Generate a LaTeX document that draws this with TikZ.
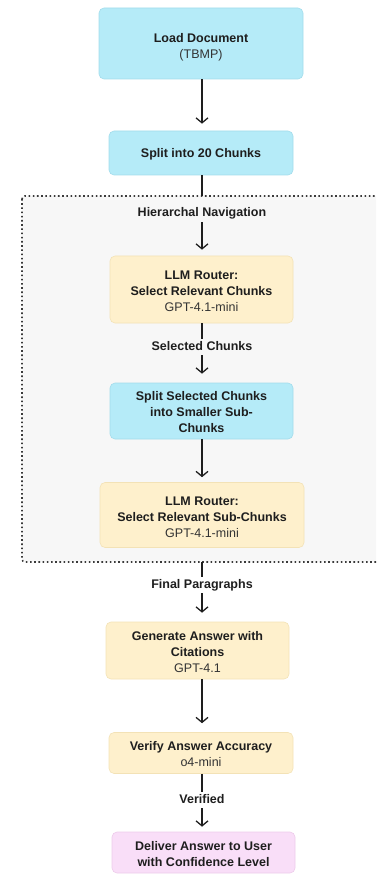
\documentclass[tikz,border=0pt]{standalone}
\usepackage{fontspec}
\setmainfont{Liberation Sans}
\usetikzlibrary{arrows.meta}

\definecolor{cyanfill}{HTML}{B5EBF8}
\definecolor{cyanline}{HTML}{A3DCEB}
\definecolor{sandfill}{HTML}{FEF0CC}
\definecolor{sandline}{HTML}{F3E2B6}
\definecolor{pinkfill}{HTML}{F9DEF8}
\definecolor{pinkline}{HTML}{EDCBEA}
\definecolor{groupfill}{HTML}{F7F7F7}
\definecolor{groupline}{HTML}{3A3A3A}
\definecolor{ink}{HTML}{1E1E1E}
\definecolor{softink}{HTML}{333333}

% stage text: a centred stack of lines, set a little below the box centre
\newcommand\stagetext[2][2.5pt]{%
  \raisebox{-#1}[\height][\depth]{\begin{tabular}{@{}c@{}}#2\end{tabular}}}

\tikzset{
  stage/.style={rectangle, rounded corners=5pt, line width=0.6pt,
    inner sep=0pt, text=ink,
    font=\fontsize{12.5}{16}\selectfont},
  cyanstage/.style={stage, fill=cyanfill, draw=cyanline},
  sandstage/.style={stage, fill=sandfill, draw=sandline},
  pinkstage/.style={stage, fill=pinkfill, draw=pinkline},
  edgelabel/.style={font=\fontsize{12.5}{16}\selectfont\bfseries, text=ink,
    inner xsep=1pt, inner ysep=2pt, text height=9pt, text depth=3pt},
  link/.style={line width=1.3pt, draw=ink},
  flow/.style={link, -{Straight Barb[length=5pt,width=12pt,line width=1.3pt]}, shorten >=7pt}
}

\begin{document}
\begin{tikzpicture}[x=1pt,y=-1pt]
  \useasboundingbox (0,0) rectangle (376,874);
  \clip (0,0) rectangle (376,874);

  % vertical axis used by all connectors
  \coordinate (axis) at (202,0);

  % group frame for the hierarchical navigation stage
  \draw[fill=groupfill, draw=groupline, line width=1.6pt,
        dash pattern=on 1.6pt off 2.6pt, rounded corners=3pt]
        (22,196) rectangle (384,562);
  \coordinate (grouptop) at (202,196);
  \coordinate (groupbottom) at (202,562);

  % stages
  \node[cyanstage, minimum width=204pt, minimum height=71pt] (load) at (201,43.5)
    {\stagetext[3.5pt]{\textbf{Load Document}\\{\color{softink}(TBMP)}}};
  \node[cyanstage, minimum width=184pt, minimum height=44pt] (split) at (201,153)
    {\stagetext[1pt]{\textbf{Split into 20 Chunks}}};
  \node[sandstage, minimum width=183pt, minimum height=67pt] (router1) at (201.5,289.5)
    {\stagetext[3pt]{\textbf{LLM Router:}\\\textbf{Select Relevant Chunks}\\{\color{softink}GPT-4.1-mini}}};
  \node[cyanstage, minimum width=183pt, minimum height=56pt] (splitsel) at (201.5,411)
    {\stagetext{\textbf{Split Selected Chunks}\\\textbf{into Smaller Sub-}\\\textbf{Chunks}}};
  \node[sandstage, minimum width=204pt, minimum height=65pt] (router2) at (202,515)
    {\stagetext[3.5pt]{\textbf{LLM Router:}\\\textbf{Select Relevant Sub-Chunks}\\{\color{softink}GPT-4.1-mini}}};
  \node[sandstage, minimum width=183pt, minimum height=57pt] (generate) at (197.5,650.5)
    {\stagetext{\textbf{Generate Answer with}\\\textbf{Citations}\\{\color{softink}GPT-4.1}}};
  \node[sandstage, minimum width=184pt, minimum height=41pt] (verify) at (201,753)
    {\stagetext[2pt]{\textbf{Verify Answer Accuracy}\\{\color{softink}o4-mini}}};
  \node[pinkstage, minimum width=183pt, minimum height=41pt] (deliver) at (203.5,852.5)
    {\stagetext{\textbf{Deliver Answer to User}\\\textbf{with Confidence Level}}};

  % connector labels
  \node[edgelabel] (hier) at (202,214) {Hierarchal Navigation};
  \node[edgelabel] (selected) at (202,347) {Selected Chunks};
  \node[edgelabel] (final) at (202,585) {Final Paragraphs};
  \node[edgelabel] (verified) at (202,800) {Verified};

  % connectors
  \draw[flow] (load.south -| axis) -- (split.north -| axis);
  \draw[link] (split.south -| axis) -- (grouptop);
  \draw[flow, shorten >=6pt] (hier.south -| axis) -- (router1.north -| axis);
  \draw[link] (router1.south -| axis) -- (selected.north -| axis);
  \draw[flow, shorten >=9pt] (selected.south -| axis) -- (splitsel.north -| axis);
  \draw[flow, shorten >=5pt] (splitsel.south -| axis) -- (router2.north -| axis);
  \draw[link] (groupbottom) -- (final.north -| axis);
  \draw[flow, shorten >=9pt] (final.south -| axis) -- (generate.north -| axis);
  \draw[flow, shorten >=9pt] (generate.south -| axis) -- (verify.north -| axis);
  \draw[link] (verify.south -| axis) -- (verified.north -| axis);
  \draw[flow, shorten >=5pt] (verified.south -| axis) -- (deliver.north -| axis);
\end{tikzpicture}
\end{document}
